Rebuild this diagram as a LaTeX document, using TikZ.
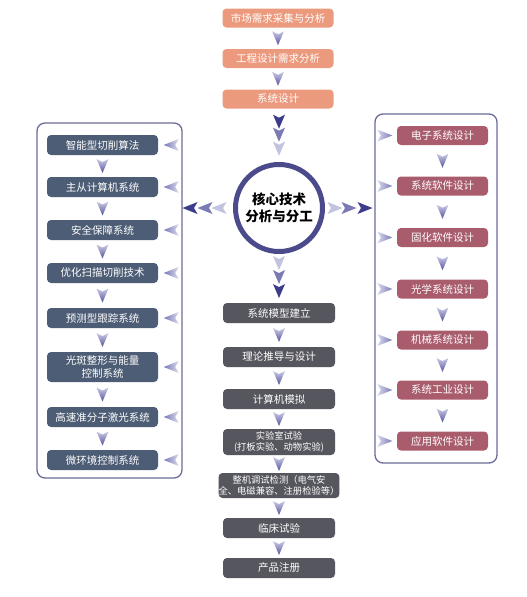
\documentclass[tikz,border=0pt]{standalone}
\usepackage{fontspec}
\setmainfont{Noto Sans CJK SC}
\usetikzlibrary{calc}
\definecolor{salmon}{HTML}{EC9A7E}
\definecolor{slate}{HTML}{4D5D75}
\definecolor{mauve}{HTML}{A95C6C}
\definecolor{graybox}{HTML}{56565F}
\definecolor{framec}{HTML}{6B6B9B}
\definecolor{ringc}{HTML}{4B4B8C}
\definecolor{adark}{HTML}{3D3D8C}
\definecolor{amed}{HTML}{7A7AB5}
\definecolor{alight}{HTML}{C2C3DE}
\definecolor{atop}{HTML}{CACAE6}
\definecolor{abot}{HTML}{55559C}
\definecolor{sdark}{HTML}{7878B6}
\definecolor{slight}{HTML}{DADAEE}
\newcommand\ArrD[2]{\path[#2] ($(#1)+(-6,-7)$) -- ($(#1)+(0,-4)$) -- ($(#1)+(6,-7)$) -- ($(#1)+(0,7)$) -- cycle;}
\newcommand\ArrL[2]{\path[#2] ($(#1)+(7.5,-6)$) -- ($(#1)+(4,0)$) -- ($(#1)+(7.5,6)$) -- ($(#1)+(-7.5,0)$) -- cycle;}
\newcommand\ArrR[2]{\path[#2] ($(#1)+(-7.5,-6)$) -- ($(#1)+(-4,0)$) -- ($(#1)+(-7.5,6)$) -- ($(#1)+(7.5,0)$) -- cycle;}
\tikzset{
  box/.style={rounded corners=4pt, text=white, align=center, inner sep=0pt, font=\fontsize{10.5}{12.5}\selectfont},
  topbox/.style={box, fill=salmon, minimum width=111pt, minimum height=19pt},
  leftbox/.style={box, fill=slate, minimum width=111pt, minimum height=20pt},
  rightbox/.style={box, fill=mauve, minimum width=91pt, minimum height=19pt},
  midbox/.style={box, fill=graybox, minimum width=112pt, minimum height=20pt},
  panel/.style={draw=framec, line width=1.3pt, rounded corners=8pt},
  dgrad/.style={top color=atop, bottom color=abot},
  lgrad/.style={left color=sdark, right color=slight},
  rgrad/.style={left color=slight, right color=sdark},
}
\begin{document}
\begin{tikzpicture}[x=1pt,y=-1pt]
\useasboundingbox[fill=white] (0,0) rectangle (527,597);
% frames
\draw[panel] (37,123) rectangle (182,478);
\draw[panel] (375,114) rectangle (497,463);
% top chain
\node[topbox] (t1) at (278,18) {市场需求采集与分析};
\node[topbox] (t2) at (278,58.5) {工程设计需求分析};
\node[topbox] (t3) at (278,99) {系统设计};
% ring
\node[circle, draw=ringc, line width=5pt, fill=white, minimum size=87pt, align=center,
      font=\fontsize{13.5}{16.5}\selectfont\bfseries] (ring) at (279,208) {核心技术\\分析与分工};
% left panel
\node[leftbox] (l1) at (102.5,145) {智能型切削算法};
\node[leftbox] (l2) at (102.5,187) {主从计算机系统};
\node[leftbox] (l3) at (102.5,230) {安全保障系统};
\node[leftbox] (l4) at (102.5,273) {优化扫描切削技术};
\node[leftbox] (l5) at (102.5,318) {预测型跟踪系统};
\node[leftbox, minimum height=30pt, font=\fontsize{10.5}{13}\selectfont] (l6) at (102.5,367) {光斑整形与能量\\控制系统};
\node[leftbox] (l7) at (102.5,417) {高速准分子激光系统};
\node[leftbox] (l8) at (102.5,460) {微环境控制系统};
% right panel
\node[rightbox] (r1) at (442.5,135.5) {电子系统设计};
\node[rightbox] (r2) at (442.5,186) {系统软件设计};
\node[rightbox] (r3) at (442.5,237.5) {固化软件设计};
\node[rightbox] (r4) at (442.5,289) {光学系统设计};
\node[rightbox] (r5) at (442.5,340) {机械系统设计};
\node[rightbox] (r6) at (442.5,390) {系统工业设计};
\node[rightbox] (r7) at (442.5,441) {应用软件设计};
% middle column
\node[midbox] (m1) at (279,313) {系统模型建立};
\node[midbox] (m2) at (279,357) {理论推导与设计};
\node[midbox] (m3) at (279,399) {计算机模拟};
\node[midbox, minimum height=26pt, font=\fontsize{9.3}{10.8}\selectfont] (m4) at (279,442) {实验室试验\\(打板实验、动物实验)};
\node[midbox, minimum height=25pt, font=\fontsize{9.3}{10.8}\selectfont] (m5) at (279,485.5) {整机调试检测（电气安\\全、电磁兼容、注册检验等）};
\node[midbox] (m6) at (279,528) {临床试验};
\node[midbox] (m7) at (279,568) {产品注册};
% arrows between boxes in columns
\foreach \a/\b in {t1/t2,t2/t3,l1/l2,l2/l3,l3/l4,l4/l5,l5/l6,l6/l7,l7/l8,
                   r1/r2,r2/r3,r3/r4,r4/r5,r5/r6,r6/r7,
                   m1/m2,m2/m3,m3/m4,m4/m5,m5/m6,m6/m7}{
  \path (\a.south) -- (\b.north) coordinate[midway] (c\a\b);
  \ArrD{c\a\b}{dgrad}
}
% side arrows in panels
\foreach \n in {l1,l2,l3,l4,l5,l6,l7,l8}{
  \coordinate (s\n) at ($(\n.east)+(13,0)$);
  \ArrL{s\n}{lgrad}
}
\foreach \n in {r1,r2,r3,r4,r5,r6,r7}{
  \coordinate (s\n) at ($(\n.west)+(-12,0)$);
  \ArrR{s\n}{rgrad}
}
% chains to/from ring
\coordinate (u1) at ($(t3.south)+(1,13)$);
\coordinate (u2) at ($(t3.south)+(1,26)$);
\coordinate (u3) at ($(t3.south)+(1,40)$);
\ArrD{u1}{fill=adark}
\ArrD{u2}{fill=amed}
\ArrD{u3}{fill=alight}
\coordinate (d1) at ($(ring.south)+(0,9)$);
\coordinate (d2) at ($(ring.south)+(0,23)$);
\coordinate (d3) at ($(ring.south)+(0,37)$);
\ArrD{d1}{fill=alight}
\ArrD{d2}{fill=amed}
\ArrD{d3}{fill=adark}
\coordinate (w1) at ($(ring.west)+(-14,0)$);
\coordinate (w2) at ($(ring.west)+(-28,0)$);
\coordinate (w3) at ($(ring.west)+(-43,0)$);
\ArrL{w1}{fill=alight}
\ArrL{w2}{fill=amed}
\ArrL{w3}{fill=adark}
\coordinate (e1) at ($(ring.east)+(10,0)$);
\coordinate (e2) at ($(ring.east)+(24,0)$);
\coordinate (e3) at ($(ring.east)+(40,0)$);
\ArrR{e1}{fill=alight}
\ArrR{e2}{fill=amed}
\ArrR{e3}{fill=adark}
\end{tikzpicture}
\end{document}
